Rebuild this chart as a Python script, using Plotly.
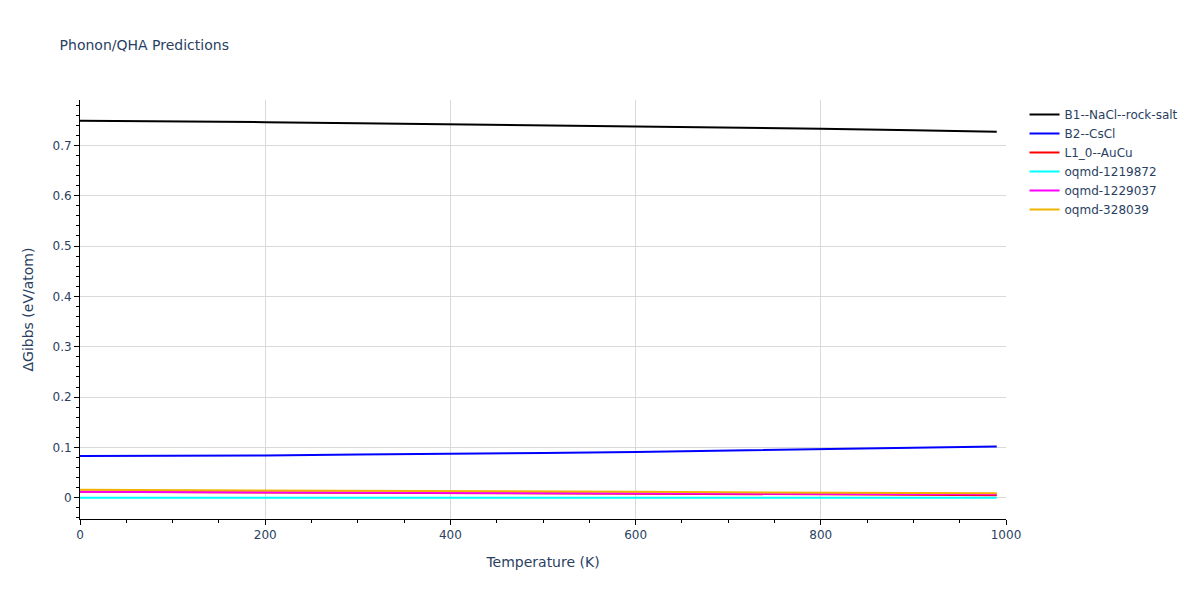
import plotly.graph_objects as go

temps = [0, 100, 200, 300, 400, 500, 600, 700, 800, 900, 990]
b1 = [0.749, 0.748, 0.746, 0.744, 0.742, 0.740, 0.738, 0.735, 0.733, 0.730, 0.727]
b2 = [0.083, 0.0835, 0.084, 0.086, 0.087, 0.089, 0.091, 0.094, 0.096, 0.099, 0.102]
l10 = [0.012, 0.0115, 0.011, 0.010, 0.0095, 0.009, 0.008, 0.0075, 0.007, 0.006, 0.005]
oq1219872 = [0.0, 0.0, 0.0, 0.0, 0.0, 0.0, 0.0, 0.0, 0.0, 0.0, 0.0]
oq1229037 = [0.012, 0.0115, 0.011, 0.0105, 0.010, 0.0095, 0.009, 0.0085, 0.008, 0.0075, 0.007]
oq328039 = [0.016, 0.0155, 0.015, 0.014, 0.013, 0.0125, 0.012, 0.011, 0.0105, 0.0095, 0.009]

names = ["B1--NaCl--rock-salt", "B2--CsCl", "L1_0--AuCu", "oqmd-1219872", "oqmd-1229037", "oqmd-328039"]
colors = ["black", "blue", "red", "cyan", "magenta", "#f0b400"]
series = [b1, b2, l10, oq1219872, oq1229037, oq328039]

fig = go.Figure()
for n, c, s in zip(names, colors, series):
    fig.add_trace(go.Scatter(x=temps, y=s, mode="lines", name=n, line=dict(color=c, width=2)))

axis_common = dict(showline=True, linecolor="black", linewidth=1, ticks="outside", tickcolor="black",
                   showgrid=True, gridcolor="#d9d9d9", zeroline=False, automargin=False,
                   minor=dict(ticks="outside", tickcolor="black", ticklen=3, showgrid=False))
fig.update_layout(
    width=1200, height=600,
    template="plotly_white",
    font=dict(family="DejaVu Sans, Verdana, sans-serif", size=12, color="#2a3f5f"),
    title=dict(text="Phonon/QHA Predictions", x=0.043, xanchor="left", y=1 - 37 / 600, yanchor="middle",
               font=dict(size=14)),
    xaxis=dict(title="Temperature (K)", range=[0, 1000], **axis_common),
    yaxis=dict(title="ΔGibbs (eV/atom)", range=[-0.042, 0.79], dtick=0.1, **axis_common),
    legend=dict(x=1.02, y=1, font=dict(size=12)),
    margin=dict(l=72, r=202, t=92, b=89, autoexpand=False),
)
fig.write_html("out.html")
